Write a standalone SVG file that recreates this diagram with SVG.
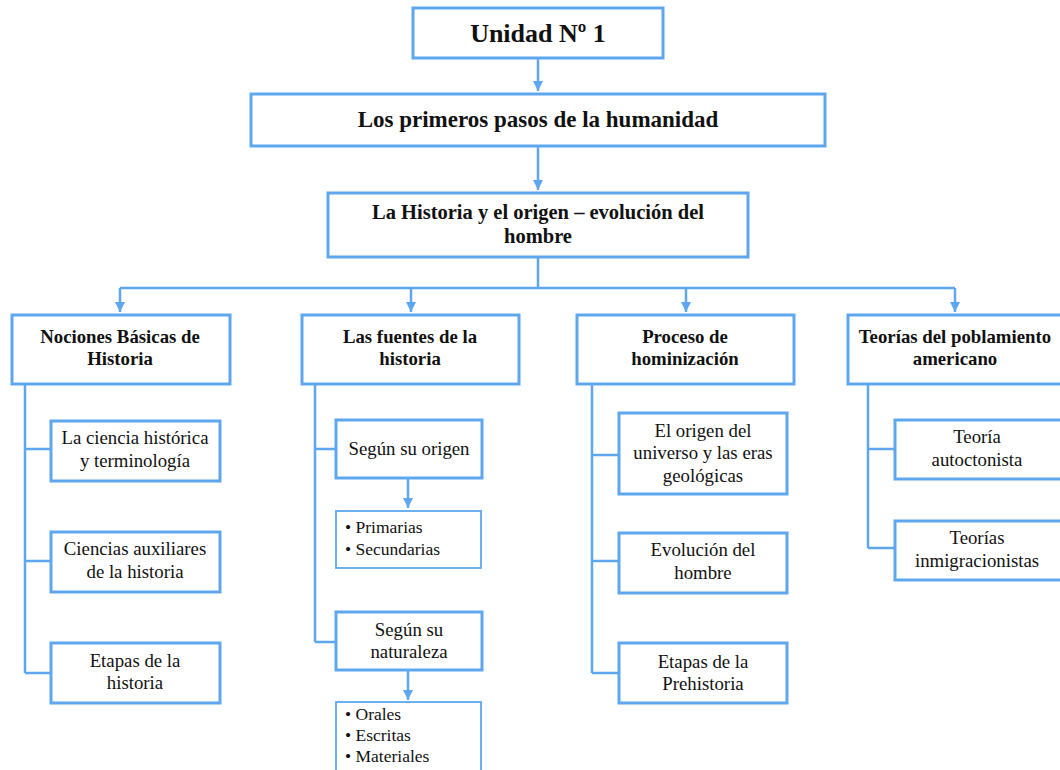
<svg xmlns="http://www.w3.org/2000/svg" width="1060" height="770" viewBox="0 0 1060 770">
<defs>
<style>
.b{fill:#fff;stroke:#5ea7ee;stroke-width:3}
.t{fill:#fff;stroke:#5ea7ee;stroke-width:1.8}
.c{fill:none;stroke:#5ea7ee;stroke-width:2.5}
text{font-family:"Liberation Serif","Times New Roman",serif;fill:#111;text-anchor:middle}
.h{font-weight:bold}
.s{font-size:18.8px}
.r{font-size:18.8px}
.l{text-anchor:start;font-size:17.5px}
</style>
<marker id="m" markerWidth="12" markerHeight="12" refX="10" refY="6" orient="auto" markerUnits="userSpaceOnUse">
<path d="M0,1 L10,6 L0,11 Z" fill="#5ea7ee"/>
</marker>
</defs>
<g id="connectors">
<path class="c" d="M538,58 V91" marker-end="url(#m)"/>
<path class="c" d="M538,146 V190" marker-end="url(#m)"/>
<path class="c" d="M538,257 V288 M120,288 H955"/>
<path class="c" d="M120,288 V312" marker-end="url(#m)"/>
<path class="c" d="M411,288 V312" marker-end="url(#m)"/>
<path class="c" d="M686,288 V312" marker-end="url(#m)"/>
<path class="c" d="M955,288 V312" marker-end="url(#m)"/>
<path class="c" d="M25,384 V673 M25,449 H51 M25,561 H51 M25,673 H51"/>
<path class="c" d="M315,384 V642 M315,449 H336 M315,642 H336"/>
<path class="c" d="M408,478 V508" marker-end="url(#m)"/>
<path class="c" d="M408,670 V700" marker-end="url(#m)"/>
<path class="c" d="M592,384 V673 M592,455 H619 M592,561 H619 M592,673 H619"/>
<path class="c" d="M868,384 V548 M868,449 H895 M868,548 H895"/>
</g>
<g id="n1"><rect class="b" x="413" y="8" width="250" height="50"/><text class="h" x="538" y="42" font-size="26">Unidad Nº 1</text></g>
<g id="n2"><rect class="b" x="251" y="94" width="574" height="52"/><text class="h" x="538" y="127" font-size="23">Los primeros pasos de la humanidad</text></g>
<g id="n3"><rect class="b" x="328" y="193" width="420" height="64"/><text class="h" x="538" y="219" font-size="20.5">La Historia y el origen – evolución del</text><text class="h" x="538" y="243" font-size="20.5">hombre</text></g>
<g id="nociones"><rect class="b" x="12" y="315" width="218" height="69"/><text class="h s" x="120" y="343">Nociones Básicas de</text><text class="h s" x="120" y="365">Historia</text></g>
<g id="fuentes"><rect class="b" x="302" y="315" width="217" height="69"/><text class="h s" x="410" y="343">Las fuentes de la</text><text class="h s" x="410" y="365">historia</text></g>
<g id="proceso"><rect class="b" x="577" y="315" width="217" height="69"/><text class="h s" x="685" y="343">Proceso de</text><text class="h s" x="685" y="365">hominización</text></g>
<g id="teorias"><rect class="b" x="848" y="315" width="220" height="69"/><text class="h s" x="955" y="343">Teorías del poblamiento</text><text class="h s" x="955" y="365">americano</text></g>
<g id="ciencia"><rect class="b" x="51" y="421" width="169" height="60"/><text class="r" x="135" y="444">La ciencia histórica</text><text class="r" x="135" y="467">y terminología</text></g>
<g id="auxiliares"><rect class="b" x="51" y="532" width="169" height="60"/><text class="r" x="135" y="555">Ciencias auxiliares</text><text class="r" x="135" y="578">de la historia</text></g>
<g id="etapas"><rect class="b" x="51" y="643" width="169" height="60"/><text class="r" x="135" y="667">Etapas de la</text><text class="r" x="135" y="689">historia</text></g>
<g id="origen"><rect class="b" x="336" y="420" width="146" height="58"/><text class="r" x="409" y="455">Según su origen</text></g>
<g id="primarias"><rect class="t" x="336" y="511" width="145" height="57"/><text class="l" x="345" y="533">• Primarias</text><text class="l" x="345" y="555">• Secundarias</text></g>
<g id="naturaleza"><rect class="b" x="336" y="612" width="146" height="58"/><text class="r" x="409" y="636">Según su</text><text class="r" x="409" y="658">naturaleza</text></g>
<g id="orales"><rect class="t" x="336" y="702" width="145" height="72"/><text class="l" x="345" y="720">• Orales</text><text class="l" x="345" y="741">• Escritas</text><text class="l" x="345" y="762">• Materiales</text></g>
<g id="universo"><rect class="b" x="619" y="413" width="168" height="81"/><text class="r" x="703" y="437">El origen del</text><text class="r" x="703" y="459">universo y las eras</text><text class="r" x="703" y="482">geológicas</text></g>
<g id="evolucion"><rect class="b" x="619" y="533" width="168" height="60"/><text class="r" x="703" y="556">Evolución del</text><text class="r" x="703" y="579">hombre</text></g>
<g id="prehistoria"><rect class="b" x="619" y="643" width="168" height="60"/><text class="r" x="703" y="668">Etapas de la</text><text class="r" x="703" y="690">Prehistoria</text></g>
<g id="autoctonista"><rect class="b" x="895" y="420" width="170" height="59"/><text class="r" x="977" y="443">Teoría</text><text class="r" x="977" y="466">autoctonista</text></g>
<g id="inmigracionistas"><rect class="b" x="895" y="521" width="170" height="59"/><text class="r" x="977" y="544">Teorías</text><text class="r" x="977" y="567">inmigracionistas</text></g>
</svg>
